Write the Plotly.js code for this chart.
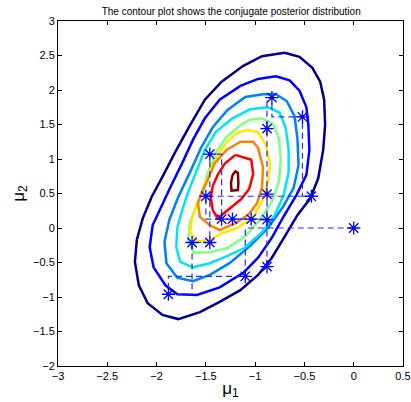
<!DOCTYPE html>
<html>
<head>
<meta charset="utf-8">
<script src="https://cdn.plot.ly/plotly-3.0.1.min.js"></script>
<style>
  html, body { margin: 0; padding: 0; background: #fff; }
  #chart { width: 411px; height: 402px; }
</style>
</head>
<body>
<div id="chart"></div>
<script>
// Contour levels of the posterior, outermost first
const contour1X = [-0.70,-0.55,-0.42,-0.34,-0.30,-0.29,-0.31,-0.36,-0.44,-0.57,-0.69,-0.83,-0.97,-1.15,-1.36,-1.56,-1.78,-1.94,-2.09,-2.18,-2.22,-2.20,-2.14,-2.05,-1.93,-1.80,-1.66,-1.51,-1.34,-1.12,-0.93,-0.70];
const contour1Y = [2.54,2.48,2.32,2.12,1.86,1.49,1.13,0.72,0.43,0.19,-0.10,-0.43,-0.68,-0.90,-1.07,-1.22,-1.32,-1.26,-1.09,-0.83,-0.49,-0.17,0.14,0.45,0.77,1.13,1.49,1.86,2.12,2.35,2.49,2.54];

const contour2X = [-0.79,-0.65,-0.55,-0.48,-0.46,-0.45,-0.48,-0.58,-0.71,-0.83,-0.97,-1.12,-1.36,-1.59,-1.79,-1.91,-2.03,-2.07,-2.04,-1.97,-1.86,-1.74,-1.63,-1.51,-1.36,-1.15,-0.97,-0.79];
const contour2Y = [2.20,2.14,1.99,1.75,1.49,1.13,0.77,0.48,0.17,-0.14,-0.43,-0.65,-0.86,-0.97,-0.96,-0.83,-0.57,-0.28,0.04,0.26,0.59,0.94,1.28,1.59,1.86,2.06,2.16,2.20];

const contour3X = [-0.92,-0.79,-0.68,-0.60,-0.57,-0.56,-0.61,-0.72,-0.87,-1.05,-1.26,-1.46,-1.63,-1.79,-1.90,-1.92,-1.87,-1.78,-1.66,-1.55,-1.43,-1.28,-1.10,-0.92];
const contour3Y = [1.94,1.94,1.84,1.62,1.28,0.91,0.58,0.30,0.00,-0.26,-0.51,-0.68,-0.77,-0.72,-0.51,-0.20,0.12,0.45,0.81,1.16,1.46,1.71,1.90,1.94];

const contour4X = [-0.87,-0.75,-0.69,-0.66,-0.66,-0.71,-0.80,-0.93,-1.11,-1.29,-1.46,-1.63,-1.76,-1.80,-1.79,-1.74,-1.68,-1.60,-1.51,-1.40,-1.23,-1.05,-0.87];
const contour4Y = [1.75,1.67,1.45,1.13,0.81,0.48,0.19,-0.06,-0.29,-0.41,-0.51,-0.57,-0.49,-0.28,0.00,0.26,0.52,0.81,1.13,1.39,1.59,1.72,1.75];

const contour5X = [-1.05,-0.93,-0.82,-0.76,-0.74,-0.76,-0.83,-0.95,-1.10,-1.28,-1.46,-1.62,-1.68,-1.66,-1.60,-1.54,-1.48,-1.40,-1.29,-1.15,-1.05];
const contour5Y = [1.57,1.59,1.51,1.30,0.99,0.67,0.38,0.12,-0.12,-0.29,-0.35,-0.36,-0.17,0.09,0.30,0.52,0.80,1.09,1.32,1.49,1.57];

const contour6X = [-1.08,-0.97,-0.89,-0.85,-0.87,-0.92,-1.02,-1.18,-1.33,-1.46,-1.59,-1.66,-1.64,-1.59,-1.53,-1.46,-1.38,-1.28,-1.18,-1.08];
const contour6Y = [1.42,1.39,1.20,0.94,0.67,0.41,0.16,0.00,-0.07,-0.17,-0.20,-0.06,0.14,0.35,0.55,0.81,1.06,1.26,1.38,1.42];

const contour7X = [-1.15,-1.02,-0.97,-0.92,-0.93,-0.98,-1.07,-1.20,-1.36,-1.46,-1.56,-1.58,-1.54,-1.48,-1.41,-1.29,-1.15];
const contour7Y = [1.25,1.25,1.16,0.88,0.59,0.36,0.19,0.07,-0.03,0.04,0.16,0.36,0.52,0.70,0.94,1.13,1.25];

const contour8X = [-1.20,-1.04,-1.02,-1.06,-1.14,-1.28,-1.38,-1.43,-1.45,-1.43,-1.38,-1.31,-1.20];
const contour8Y = [1.06,0.99,0.78,0.57,0.42,0.25,0.14,0.26,0.43,0.61,0.77,0.93,1.06];

const contour9X = [-1.23,-1.20,-1.175,-1.17,-1.175,-1.24,-1.245,-1.23];
const contour9Y = [0.77,0.82,0.80,0.65,0.55,0.54,0.65,0.77];

const contourColors = ['#00008F','#0000FF','#0080FF','#00E5EE','#80FF80','#FFE800','#FF8000','#FF0000','#800000'];

// Gibbs samples (mu1, mu2) in drawing order
const sampleMu1 = [0.00,-1.10,-1.88,-1.64,-1.46,-1.46,-1.34,-1.50,-0.43,-0.52,-0.83,-0.88,-0.88,-0.88,-1.04,-1.23,-0.88];
const sampleMu2 = [0.00,-0.70,-0.96,-0.21,-0.21,1.07,0.13,0.46,0.46,1.61,1.89,1.44,0.49,0.12,0.13,0.13,-0.56];

const titleText = 'The contour plot shows the conjugate posterior distribution';
const xTicks = [-3,-2.5,-2,-1.5,-1,-0.5,0,0.5];
const yTicks = [-2,-1.5,-1,-0.5,0,0.5,1,1.5,2,2.5,3];

const cx = [contour1X,contour2X,contour3X,contour4X,contour5X,contour6X,contour7X,contour8X,contour9X];
const cy = [contour1Y,contour2Y,contour3Y,contour4Y,contour5Y,contour6Y,contour7Y,contour8Y,contour9Y];

const traces = [];
for (let i = 0; i < cx.length; i++) {
  traces.push({
    type: 'scatter', mode: 'lines', x: cx[i], y: cy[i],
    line: { color: contourColors[i], width: 2.5 },
    hoverinfo: 'skip', showlegend: false
  });
}

// Gibbs path: each step moves mu1 first, then mu2
const pathX = [sampleMu1[0]], pathY = [sampleMu2[0]];
for (let t = 1; t < sampleMu1.length; t++) {
  pathX.push(sampleMu1[t]); pathY.push(sampleMu2[t-1]);
  pathX.push(sampleMu1[t]); pathY.push(sampleMu2[t]);
}
traces.push({
  type: 'scatter', mode: 'lines', x: pathX, y: pathY,
  line: { color: '#2828FF', width: 1.2, dash: '6px,4px' },
  hoverinfo: 'skip', showlegend: false
});
traces.push({
  type: 'scatter', mode: 'markers', x: sampleMu1, y: sampleMu2,
  marker: { symbol: 'asterisk-open', size: 11, color: '#0000FF', line: { color: '#0000FF', width: 1.3 } },
  hoverinfo: 'skip', showlegend: false
});

const axisCommon = {
  showgrid: false, zeroline: false, showline: true, linecolor: '#000', linewidth: 1,
  mirror: 'ticks', ticks: 'inside', ticklen: 4, tickwidth: 1, tickcolor: '#000',
  tickfont: { family: 'Liberation Sans, Arial, sans-serif', size: 11, color: '#000' }
};

const layout = {
  width: 411, height: 402,
  margin: { l: 58, r: 8, t: 21, b: 36 },
  paper_bgcolor: '#fff', plot_bgcolor: '#fff',
  title: { text: titleText, x: 0.5625, xanchor: 'center', y: 0.972, yanchor: 'middle',
           font: { family: 'Liberation Sans, Arial, sans-serif', size: 10, color: '#000' } },
  xaxis: Object.assign({}, axisCommon, {
    range: [-3, 0.5], tickvals: xTicks,
    title: { text: 'μ<sub>1</sub>', standoff: 0, font: { family: 'Liberation Sans, Arial, sans-serif', size: 17, color: '#000' } }
  }),
  yaxis: Object.assign({}, axisCommon, {
    range: [-2, 3], tickvals: yTicks,
    title: { text: 'μ<sub>2</sub>', standoff: 4, font: { family: 'Liberation Sans, Arial, sans-serif', size: 17, color: '#000' } }
  }),
  showlegend: false
};

Plotly.newPlot('chart', traces, layout, { staticPlot: true, displayModeBar: false });
</script>
</body>
</html>
